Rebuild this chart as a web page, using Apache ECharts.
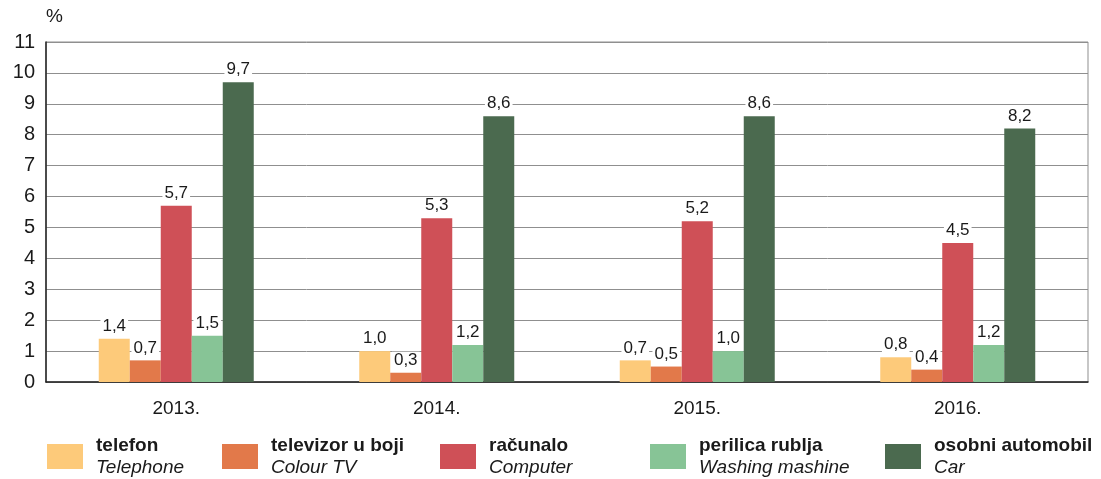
<!DOCTYPE html>
<html>
<head>
<meta charset="utf-8">
<script src="https://cdn.jsdelivr.net/npm/echarts@6/dist/echarts.min.js"></script>
<style>
  html, body { margin: 0; padding: 0; background: #fff; }
  #chart { width: 1101px; height: 479px; }
</style>
</head>
<body>
<div id="chart"></div>
<script>
// godine
const years = ['2013.', '2014.', '2015.', '2016.'];

// vrijednosti u %
const telefon = [1.4, 1.0, 0.7, 0.8];
const televizor = [0.7, 0.3, 0.5, 0.4];
const racunalo = [5.7, 5.3, 5.2, 4.5];
const perilica = [1.5, 1.2, 1.0, 1.2];
const automobil = [9.7, 8.6, 8.6, 8.2];

const seriesNames = ['telefon', 'televizor u boji', 'računalo', 'perilica rublja', 'osobni automobil'];
const englishNames = ['Telephone', 'Colour TV', 'Computer', 'Washing mashine', 'Car'];
const colors = ['#fdca7a', '#e2794a', '#cf5057', '#87c496', '#4b6a4f'];
const legendLeft = [47, 222, 440, 650, 885];

const font = '"Liberation Sans Narrow", "Liberation Sans", Arial, sans-serif';

const chart = echarts.init(document.getElementById('chart'));

const allData = [telefon, televizor, racunalo, perilica, automobil];

const series = allData.map((data, i) => ({
  name: seriesNames[i],
  type: 'bar',
  data: data,
  barWidth: 31,
  barGap: '0%',
  itemStyle: { color: colors[i] },
  label: {
    show: true,
    position: 'top',
    distance: 4,
    fontFamily: font,
    fontSize: 17,
    color: '#1a1a1a',
    backgroundColor: '#fff',
    padding: [0, 2, 0, 2],
    formatter: (p) => p.value.toFixed(1).replace('.', ',')
  }
}));

const legends = seriesNames.map((name, i) => ({
  data: [name],
  left: legendLeft[i],
  top: 436,
  padding: 0,
  icon: 'rect',
  itemWidth: 36,
  itemHeight: 25,
  selectedMode: false,
  formatter: (n) => '{b|' + n + '}\n{i|' + englishNames[i] + '}',
  textStyle: {
    padding: [0, 0, 0, 8],
    rich: {
      b: { fontFamily: font, fontSize: 19, fontWeight: 'bold', color: '#1a1a1a', lineHeight: 22 },
      i: { fontFamily: font, fontSize: 19, fontStyle: 'italic', color: '#1a1a1a', lineHeight: 22 }
    }
  }
}));

const option = {
  backgroundColor: '#fff',
  animation: false,
  grid: {
    left: 46,
    right: 13,
    top: 42,
    bottom: 97,
    show: true,
    borderColor: '#8f8f8f',
    borderWidth: 1
  },
  legend: legends,
  xAxis: {
    type: 'category',
    data: years,
    axisLine: { lineStyle: { color: '#222', width: 1.5 } },
    axisTick: { show: false },
    axisLabel: { fontFamily: font, fontSize: 19, color: '#1a1a1a', margin: 17 }
  },
  yAxis: {
    type: 'value',
    min: 0,
    max: 11,
    interval: 1,
    name: '%',
    nameLocation: 'end',
    nameGap: 16,
    nameTextStyle: { fontFamily: font, fontSize: 19, color: '#1a1a1a', align: 'left' },
    axisLine: { show: true, lineStyle: { color: '#222', width: 1.5 } },
    axisTick: { show: false },
    axisLabel: { fontFamily: font, fontSize: 20, color: '#1a1a1a', margin: 11 },
    splitLine: { lineStyle: { color: '#8f8f8f', width: 1 } }
  },
  series: series
};

chart.setOption(option);
</script>
</body>
</html>
